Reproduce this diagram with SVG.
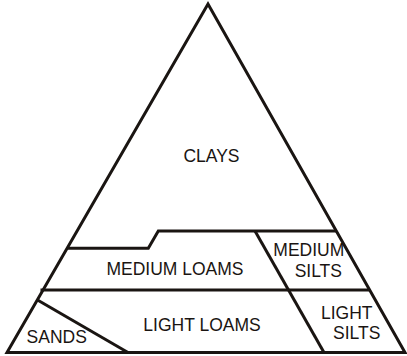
<svg xmlns="http://www.w3.org/2000/svg" width="407" height="356" viewBox="0 0 407 356">
<style>
.ln{fill:none;stroke:#1a1512;stroke-width:3;stroke-linejoin:miter;stroke-linecap:butt}
.lb{font-family:"Liberation Sans",Arial,sans-serif;font-size:17.5px;fill:#1a1512;text-anchor:middle}
</style>
<rect width="407" height="356" fill="#fff"/>
<g id="connectors">
<polygon class="ln" points="7,352.5 208,4 405,352.5"/>
<polyline class="ln" points="67.5,248.3 148.3,248.3 158.3,231 336.5,231"/>
<line class="ln" x1="40.5" y1="290" x2="370" y2="290"/>
<line class="ln" x1="255" y1="231" x2="324" y2="352.5"/>
<line class="ln" x1="37.5" y1="300" x2="128" y2="352.5"/>
</g>
<g id="clays"><text class="lb" x="211.5" y="162">CLAYS</text></g>
<g id="medium-loams"><text class="lb" x="175" y="275">MEDIUM LOAMS</text></g>
<g id="medium-silts"><text class="lb" x="308.8" y="256">MEDIUM</text><text class="lb" x="318.3" y="277">SILTS</text></g>
<g id="light-loams"><text class="lb" x="202" y="330.5">LIGHT LOAMS</text></g>
<g id="light-silts"><text class="lb" x="346.7" y="318.5">LIGHT</text><text class="lb" x="356.7" y="338.5">SILTS</text></g>
<g id="sands"><text class="lb" x="56.7" y="343">SANDS</text></g>
</svg>
